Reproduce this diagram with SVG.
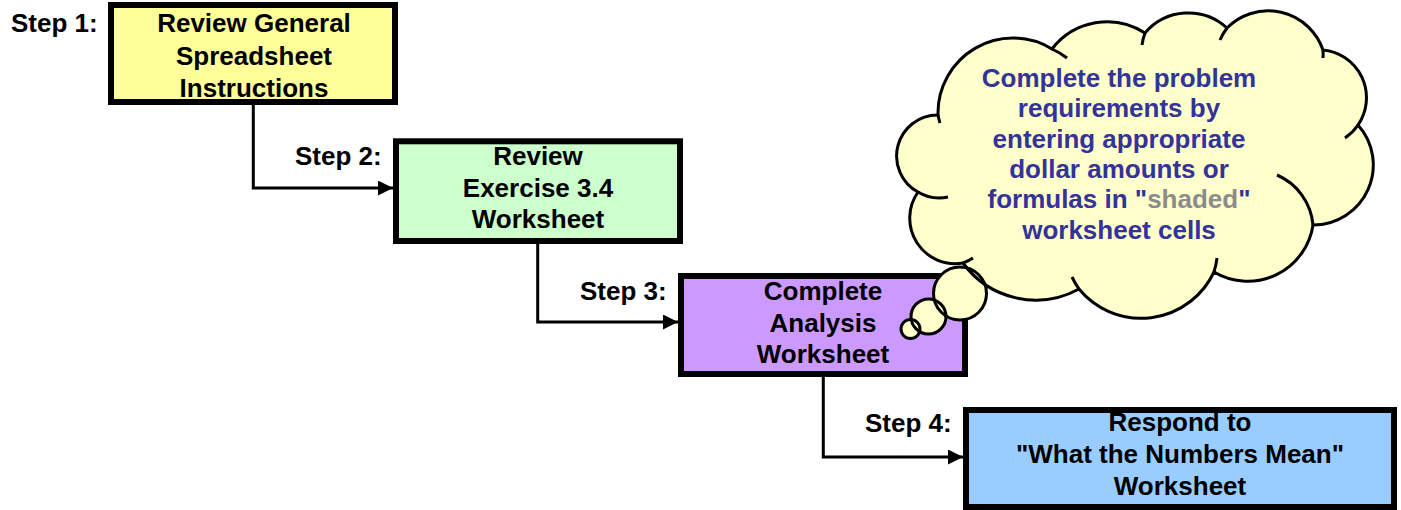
<svg xmlns="http://www.w3.org/2000/svg" xmlns:xlink="http://www.w3.org/1999/xlink" width="1401" height="510" viewBox="0 0 1401 510">
  <style>
    .box { stroke: #000; stroke-width: 6; }
    .lbl { font-family: "Liberation Sans", Arial, sans-serif; font-weight: bold; font-size: 26px; fill: #000; }
    .ctr { text-anchor: middle; }
    .conn { fill: none; stroke: #000; stroke-width: 3; }
    .cloud-fill { fill: #FFFFCC; stroke: none; }
    .cloud-line { fill: none; stroke: #000; stroke-width: 3; }
    .ctext { font-family: "Liberation Sans", Arial, sans-serif; font-weight: bold; font-size: 26px; fill: #333399; text-anchor: middle; }
    .shaded { fill: #8C8C8C; }
  </style>
  <defs>
    <marker id="arrow" markerUnits="userSpaceOnUse" markerWidth="15" markerHeight="15" refX="15" refY="7.5" orient="auto">
      <path d="M0,0 L15,7.5 L0,15 z" fill="#000"/>
    </marker>
    <path id="cloudShape" d="M 918 192 A 41 41 0 0 1 938 115 A 75 75 0 0 1 1052 49 A 69.5 69.5 0 0 1 1145 33 A 57 57 0 0 1 1227 28 A 58 58 0 0 1 1323 50 A 48 48 0 0 1 1358 125 A 60 60 0 0 1 1313 225 A 66 66 0 0 1 1214 272 A 80.5 80.5 0 0 1 1079 289 A 90 90 0 0 1 963 263 A 45.5 45.5 0 0 1 918 192 Z"/>
  </defs>

  <g id="connectors">
    <path class="conn" d="M 253.3 104 V 188 H 393" marker-end="url(#arrow)"/>
    <path class="conn" d="M 537.7 243 V 322 H 678" marker-end="url(#arrow)"/>
    <path class="conn" d="M 823.3 376 V 457 H 963" marker-end="url(#arrow)"/>
  </g>

  <g id="step1">
    <rect class="box" x="111" y="5" width="284" height="97" fill="#FFFF99"/>
    <text class="lbl" x="11" y="32">Step 1:</text>
    <text class="lbl ctr" x="254" y="32">Review General</text>
    <text class="lbl ctr" x="254" y="64.5">Spreadsheet</text>
    <text class="lbl ctr" x="254" y="97">Instructions</text>
  </g>

  <g id="step2">
    <rect class="box" x="396" y="141.3" width="284" height="99.7" fill="#CCFFCC"/>
    <text class="lbl" x="295" y="165">Step 2:</text>
    <text class="lbl ctr" x="538" y="165">Review</text>
    <text class="lbl ctr" x="538" y="196.7">Exercise 3.4</text>
    <text class="lbl ctr" x="538" y="228.3">Worksheet</text>
  </g>

  <g id="step3">
    <rect class="box" x="681" y="276" width="284" height="98" fill="#CC99FF"/>
    <text class="lbl" x="580" y="300">Step 3:</text>
    <text class="lbl ctr" x="823" y="300">Complete</text>
    <text class="lbl ctr" x="823" y="331.5">Analysis</text>
    <text class="lbl ctr" x="823" y="363">Worksheet</text>
  </g>

  <g id="step4">
    <rect class="box" x="966" y="410" width="428" height="97" fill="#99CCFF"/>
    <text class="lbl" x="865" y="432">Step 4:</text>
    <text class="lbl ctr" x="1180" y="431">Respond to</text>
    <text class="lbl ctr" x="1180" y="463.3">"What the Numbers Mean"</text>
    <text class="lbl ctr" x="1180" y="495">Worksheet</text>
  </g>

  <g id="thought-cloud">
    <use xlink:href="#cloudShape" href="#cloudShape" class="cloud-fill"/>
    <circle class="cloud-fill" cx="960" cy="293.5" r="26.5"/>
    <circle class="cloud-fill" cx="928.5" cy="316.5" r="17.5"/>
    <circle class="cloud-fill" cx="910.5" cy="329" r="9.5"/>
    <use xlink:href="#cloudShape" href="#cloudShape" class="cloud-line"/>
    <path class="cloud-line" d="M 940 123 A 75 75 0 0 1 938 115 M 1052 49 A 75 75 0 0 1 1067 58 M 1142 45 A 57 57 0 0 1 1145 33 M 1220 40 A 58 58 0 0 1 1227 28 M 1323 50 A 58 58 0 0 1 1323 58 M 1358 125 A 48 48 0 0 1 1345 138 M 1277 175 A 60 60 0 0 1 1313 225 M 1217 258 A 80 80 0 0 1 1214 272 M 1079 289 A 80 80 0 0 1 1072 277 M 973 258 A 45 45 0 0 1 963 263 M 948 197 A 41 41 0 0 1 918 192"/>
    <circle class="cloud-line" cx="960" cy="293.5" r="26.5"/>
    <circle class="cloud-line" cx="928.5" cy="316.5" r="17.5"/>
    <circle class="cloud-line" cx="910.5" cy="329" r="9.5"/>
    <text class="ctext" x="1119" y="86.7">Complete the problem</text>
    <text class="ctext" x="1119" y="116.7">requirements by</text>
    <text class="ctext" x="1119" y="148">entering appropriate</text>
    <text class="ctext" x="1119" y="178.3">dollar amounts or</text>
    <text class="ctext" x="1119" y="208.3">formulas in "<tspan class="shaded">shaded</tspan>"</text>
    <text class="ctext" x="1119" y="238.5">worksheet cells</text>
  </g>
</svg>
